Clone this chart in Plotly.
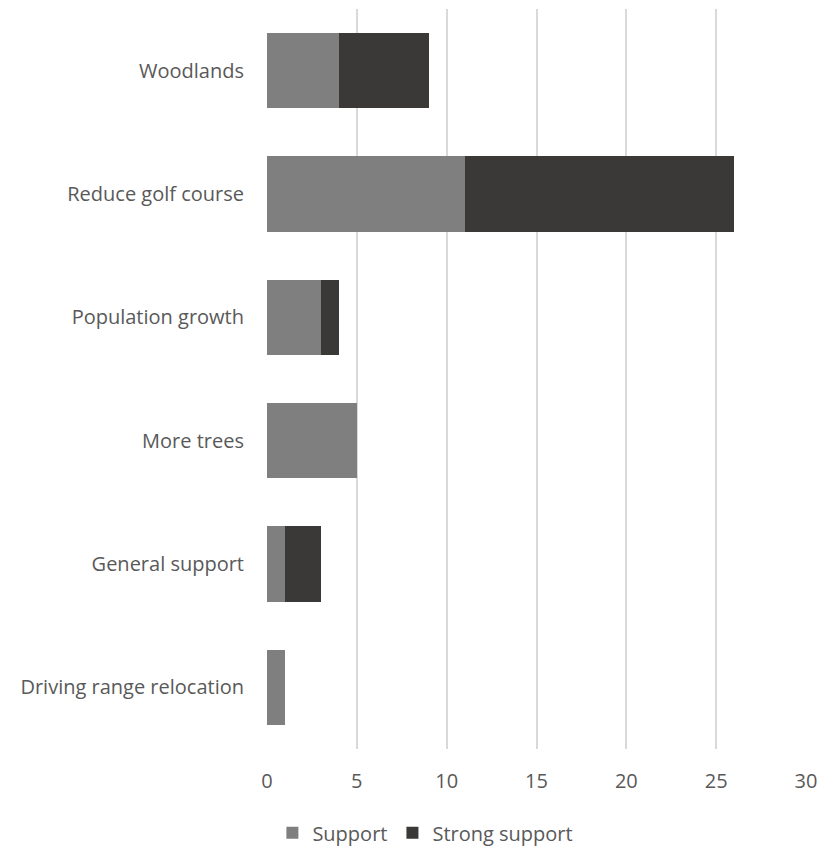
import plotly.graph_objects as go

categories = ["Woodlands", "Reduce golf course", "Population growth", "More trees",
              "General support", "Driving range relocation"]
support = [4, 11, 3, 5, 1, 1]
strong_support = [5, 15, 1, 0, 2, 0]
x_ticks = [0, 5, 10, 15, 20, 25, 30]

FONT = "Open Sans, Noto Sans, sans-serif"
TXT = "#595959"

fig = go.Figure()
fig.add_trace(go.Bar(y=categories, x=support, name="Support", orientation="h",
                     marker=dict(color="#7f7f7f", line=dict(width=0))))
fig.add_trace(go.Bar(y=categories, x=strong_support, name="Strong support", orientation="h",
                     marker=dict(color="#3a3938", line=dict(width=0))))

fig.update_layout(
    width=826, height=848,
    barmode="stack", bargap=0.39,
    paper_bgcolor="white", plot_bgcolor="white",
    margin=dict(l=267, r=14, t=9, b=99),
    font=dict(family=FONT, size=20, color=TXT),
    showlegend=True,
    legend=dict(orientation="h", xref="container", yref="container",
                x=0.515, xanchor="center", y=0.018, yanchor="middle",
                font=dict(size=20, color=TXT), traceorder="normal",
                itemwidth=30),
    xaxis=dict(range=[0, 30], tickvals=x_ticks, showgrid=True, gridcolor="#d9d9d9",
               gridwidth=1.5, zeroline=False, showline=False, ticks="",
               ticklabelstandoff=18, fixedrange=True),
    yaxis=dict(autorange="reversed", showgrid=False, showline=False, ticks="",
               ticklabelstandoff=22, fixedrange=True),
)
fig.write_html("out.html", config={"displayModeBar": False},
               post_script="document.body.style.margin='0';document.body.style.overflow='hidden';")
